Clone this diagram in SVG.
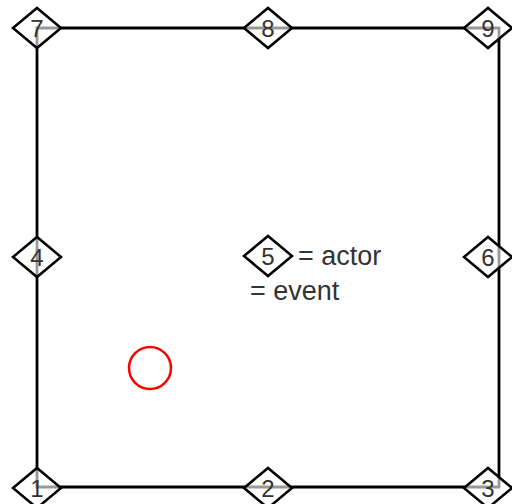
<svg xmlns="http://www.w3.org/2000/svg" width="512" height="504" viewBox="0 0 512 504">
<style>
.d{fill:#fff;fill-opacity:0.6;stroke:#000;stroke-width:2.5}
.t{font-family:"Liberation Sans",Arial,sans-serif;font-size:24px;fill:#333;text-anchor:middle}
.l{font-family:"Liberation Sans",Arial,sans-serif;font-size:27px;fill:#333}
.e{fill:none;stroke:#000;stroke-width:2.8}
</style>
<defs>
<polygon id="dia" class="d" points="-24,0 0,-20 24,0 0,20"/>
</defs>
<rect width="512" height="504" fill="#fff"/>
<g id="connectors">
<path class="e" d="M37,28 H499 V487 H37 Z"/>
</g>
<g id="n7"><use href="#dia" x="37" y="28"/><text class="t" x="37" y="37">7</text></g>
<g id="n8"><use href="#dia" x="268" y="28"/><text class="t" x="268" y="37">8</text></g>
<g id="n9"><use href="#dia" x="488" y="28"/><text class="t" x="488" y="37">9</text></g>
<g id="n4"><use href="#dia" x="37" y="257"/><text class="t" x="37" y="266">4</text></g>
<g id="n6"><use href="#dia" x="488" y="257"/><text class="t" x="488" y="266">6</text></g>
<g id="n1"><use href="#dia" x="37" y="488"/><text class="t" x="37" y="497">1</text></g>
<g id="n2"><use href="#dia" x="268" y="488"/><text class="t" x="268" y="497">2</text></g>
<g id="n3"><use href="#dia" x="488" y="488"/><text class="t" x="488" y="497">3</text></g>
<g id="legend">
<use href="#dia" x="268" y="256"/><text class="t" x="268" y="265">5</text>
<text class="l" x="298" y="265">= actor</text>
<text class="l" x="250" y="300">= event</text>
</g>
<g id="event"><circle cx="150" cy="368" r="21" fill="none" stroke="#f00" stroke-width="2.5"/></g>
</svg>
